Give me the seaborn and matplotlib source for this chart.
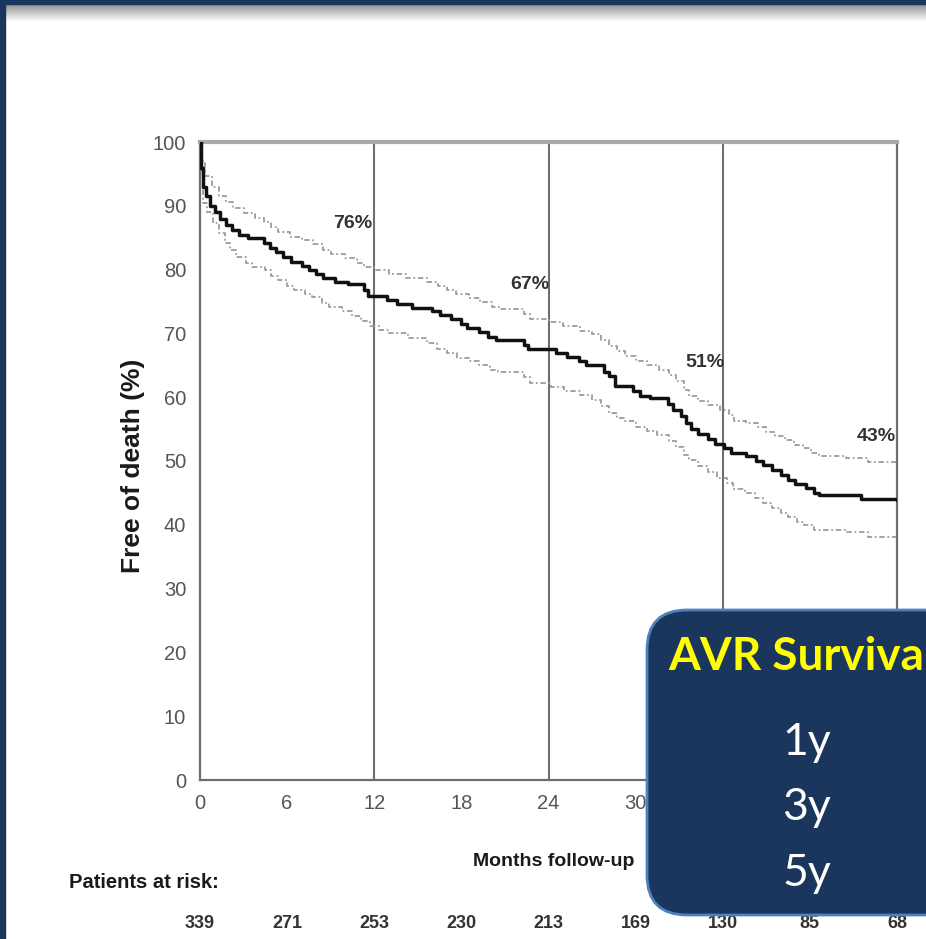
import matplotlib
matplotlib.use('agg')
import matplotlib.pyplot as plt
import matplotlib.font_manager as fm
from matplotlib.patches import FancyBboxPatch, Rectangle
from matplotlib.transforms import IdentityTransform, blended_transform_factory
import numpy as np
import pandas as pd
import seaborn as sns

### data ###

# Kaplan-Meier estimate, free of death (%), step changes (months)
km_months = [0, 0.1, 0.2, 0.4, 0.7, 1.0, 1.4, 1.8, 2.2, 2.7, 3.3, 4.4, 4.8, 5.2, 5.7, 6.3,
             7.0, 7.5, 8.0, 8.5, 9.3, 10.2, 11.3, 11.6, 12.9, 13.6, 14.6, 16.0, 16.5, 17.3,
             18.0, 18.4, 19.2, 19.8, 20.4, 22.3, 22.6, 24.5, 25.3, 26.1, 26.6, 27.8, 28.2,
             28.6, 29.8, 30.3, 31.0, 32.2, 32.6, 33.1, 33.5, 33.8, 34.3, 35.0, 35.5, 36.1,
             36.6, 37.6, 38.3, 38.8, 39.4, 40.0, 40.5, 41.0, 41.7, 42.3, 42.6, 45.5, 48.0]
km_pct = [100, 96, 93, 91.5, 90, 89, 88, 87, 86.2, 85.4, 84.9, 84.2, 83.4, 82.8, 82, 81.2,
          80.6, 79.9, 79.3, 78.7, 78.1, 77.8, 76.8, 75.9, 75.3, 74.6, 74.0, 73.5, 72.9, 72.3,
          71.5, 70.8, 70.2, 69.5, 69.0, 68.2, 67.5, 67.0, 66.3, 65.6, 65.1, 64.0, 63.3,
          61.8, 61.0, 60.2, 59.8, 59.0, 58.0, 57.0, 56.0, 55.0, 54.2, 53.4, 52.6, 52.0,
          51.2, 50.8, 50.0, 49.3, 48.6, 47.8, 47.1, 46.4, 45.8, 45.0, 44.6, 44.1, 43.9]

# upper confidence limit
upper_months = [0, 0.15, 0.35, 0.8, 1.3, 1.8, 2.3, 3.0, 3.8, 4.4, 4.9, 5.4, 6.2, 7.0, 7.8,
                8.5, 9.0, 10.0, 10.8, 11.3, 12.0, 13.0, 14.2, 15.6, 16.4, 17.0, 17.6, 18.5,
                19.3, 20.1, 20.6, 22.3, 22.7, 24.0, 25.0, 26.2, 27.0, 27.6, 28.2, 28.7, 29.3,
                30.0, 30.8, 31.6, 32.3, 32.8, 33.3, 33.7, 34.3, 35.0, 35.8, 36.4, 36.8, 37.6,
                38.4, 39.0, 39.6, 40.3, 40.9, 41.5, 42.1, 42.6, 44.5, 46.0, 48.0]
upper_pct = [100, 97, 94.6, 93, 91.6, 90.6, 89.6, 88.8, 88.1, 87.5, 86.6, 85.9, 85.1, 84.6,
             84.0, 83.0, 82.4, 81.8, 81.0, 80.4, 79.9, 79.3, 78.7, 78.1, 77.4, 76.8, 76.1,
             75.5, 75.0, 74.2, 73.8, 73.0, 72.3, 71.8, 71.1, 70.4, 69.9, 68.9, 68.0, 67.2,
             66.4, 65.7, 65.0, 64.3, 63.5, 62.5, 61.2, 60.2, 59.4, 58.7, 58.0, 57.2, 56.3,
             55.9, 55.3, 54.6, 53.9, 53.3, 52.5, 52.0, 51.3, 50.8, 50.4, 49.9, 49.9]

# lower confidence limit
lower_months = [0, 0.05, 0.2, 0.5, 0.9, 1.3, 1.7, 2.1, 2.5, 3.2, 3.6, 4.5, 4.9, 5.4, 6.0,
                6.5, 7.2, 7.7, 8.4, 8.9, 9.8, 10.5, 11.1, 11.7, 12.3, 13.0, 14.3, 15.6, 16.3,
                17.0, 17.7, 18.5, 19.2, 20.0, 20.5, 22.3, 22.7, 24.2, 25.1, 26.2, 27.0, 27.6,
                28.2, 28.7, 29.3, 30.0, 30.8, 31.5, 32.3, 32.8, 33.3, 33.7, 34.3, 35.0, 35.6,
                36.3, 36.7, 37.5, 38.2, 38.8, 39.4, 40.0, 40.5, 41.1, 41.6, 42.3, 44.5, 46.0,
                48.0]
lower_pct = [100, 95, 90.5, 89, 87.3, 85.8, 84.2, 83.0, 82.0, 81.0, 80.4, 79.9, 79.0, 78.3,
             77.5, 76.8, 76.2, 75.7, 74.8, 74.1, 73.5, 72.8, 71.9, 71.2, 70.6, 70.0, 69.3,
             68.5, 67.6, 66.9, 66.2, 65.7, 65.1, 64.3, 63.9, 63.1, 62.3, 61.6, 61.0, 60.3,
             59.6, 58.6, 57.6, 56.8, 56.2, 55.4, 54.7, 54.0, 53.1, 52.2, 51.0, 50.1, 49.2,
             48.2, 47.4, 46.6, 45.6, 45.0, 44.2, 43.4, 42.6, 41.9, 41.2, 40.4, 39.9, 39.2,
             38.8, 38.1, 38.1]

# survival labels
label_months = [10.5, 22.7, 34.8, 46.6]
label_pct = [87.3, 77.7, 65.4, 53.8]
label_text = ["76%", "67%", "51%", "43%"]

# patients at risk
risk_months = [0, 6, 12, 18, 24, 30, 36, 42, 48]
risk_counts = [339, 271, 253, 230, 213, 169, 130, 85, 68]

x_ticks = [0, 6, 12, 18, 24, 30, 36, 42, 48]
# labels for 36-48 sit under the overlay box in the slide
x_tick_labels = ["0", "6", "12", "18", "24", "30", "", "", ""]
y_ticks = [0, 10, 20, 30, 40, 50, 60, 70, 80, 90, 100]
year_marks = [12, 24, 36]
box_title = "AVR Surviva"
box_rows = ["1y", "3y", "5y"]

### style ###

sns.set_style("white")
installed = {f.name for f in fm.fontManager.ttflist}
narrow = "Liberation Sans Narrow" if "Liberation Sans Narrow" in installed else "Liberation Sans"
plt.rcParams["font.family"] = [narrow, "DejaVu Sans"]

W, H = 926, 939
fig = plt.figure(figsize=(W / 100, H / 100), dpi=100)
fig.patch.set_facecolor("white")


def fx(x):
    return x / W


def fy(y):
    return 1 - y / H


ax = fig.add_axes([fx(200), fy(780), (897 - 200) / W, (780 - 142) / H])

km = pd.DataFrame({"month": km_months, "pct": km_pct})
up = pd.DataFrame({"month": upper_months, "pct": upper_pct})
lo = pd.DataFrame({"month": lower_months, "pct": lower_pct})

ci_style = dict(color="#9c9c9c", lw=1.3, linestyle=(0, (3, 1.5, 1, 1.5)),
                drawstyle="steps-post", estimator=None, ax=ax, zorder=2)
sns.lineplot(data=up, x="month", y="pct", **ci_style)
sns.lineplot(data=lo, x="month", y="pct", **ci_style)
sns.lineplot(data=km, x="month", y="pct", color="#111111", lw=2.5,
             drawstyle="steps-post", estimator=None, ax=ax, zorder=3)

for m in year_marks:
    ax.axvline(m, color="#6e6e6e", lw=1.5, zorder=1)

for m, p, t in zip(label_months, label_pct, label_text):
    ax.text(m, p, t, ha="center", va="center", fontsize=14, fontweight="bold",
            color="#333333", zorder=4)

ax.set_xlim(0, 48)
ax.set_ylim(0, 100)
ax.set_xticks(x_ticks)
ax.set_xticklabels(x_tick_labels)
ax.set_yticks(y_ticks)
ax.set_xlabel("")
ax.set_ylabel("")
ax.tick_params(axis="both", direction="out", length=7, width=1.4, color="#707070",
               labelcolor="#555555", labelsize=14.5, pad=3)
for side in ["left", "bottom", "right"]:
    ax.spines[side].set_color("#6e6e6e")
    ax.spines[side].set_linewidth(1.6)
ax.spines["top"].set_color("#a8a8a8")
ax.spines["top"].set_linewidth(3)

fig.text(fx(133), fy(466), "Free of death (%)", rotation=90, ha="center", va="center",
         fontsize=19, fontweight="bold", color="#1a1a1a")
fig.text(fx(554), fy(862), "Months follow-up", ha="center", va="center",
         fontsize=14, fontweight="bold", color="#1a1a1a")
fig.text(fx(144), fy(882), "Patients at risk:", ha="center", va="center",
         fontsize=14.5, fontweight="bold", color="#1a1a1a")

risk_tr = blended_transform_factory(ax.transData, fig.transFigure)
for m, n in zip(risk_months, risk_counts):
    ax.text(m, fy(923), str(n), transform=risk_tr, ha="center", va="center",
            fontsize=13, fontweight="bold", color="#333333", clip_on=False)

# slide frame: navy edges and shadow below the title bar
gax = fig.add_axes([0, fy(22), 1, 18 / H])
gax.imshow(np.linspace(0.42, 1.0, 40)[:, None] ** 0.7, aspect="auto", cmap="gray",
           vmin=0, vmax=1)
gax.axis("off")
fig.add_artist(Rectangle((0, 0), fx(5), 1, transform=fig.transFigure,
                         color="#17375e", zorder=10))
fig.add_artist(Rectangle((0, fy(4)), 1, 4 / H, transform=fig.transFigure,
                         color="#17375e", zorder=10))

# overlay box
box = FancyBboxPatch((647, H - 915), 420, 305, boxstyle="round,pad=0,rounding_size=40",
                     transform=IdentityTransform(), facecolor="#1b365d",
                     edgecolor="#4f81bd", lw=2, zorder=5)
fig.add_artist(box)
fig.text(fx(668), fy(670), box_title, color="#ffff00", fontsize=33,
         fontweight="bold", family=["Lato", "DejaVu Sans"], va="baseline", zorder=6)
for i, row in enumerate(box_rows):
    fig.text(fx(782), fy(755 + i * 65.5), row, color="white", fontsize=32,
             family=["Lato", "DejaVu Sans"], va="baseline", zorder=6)

fig.savefig("out.png", dpi=100)
